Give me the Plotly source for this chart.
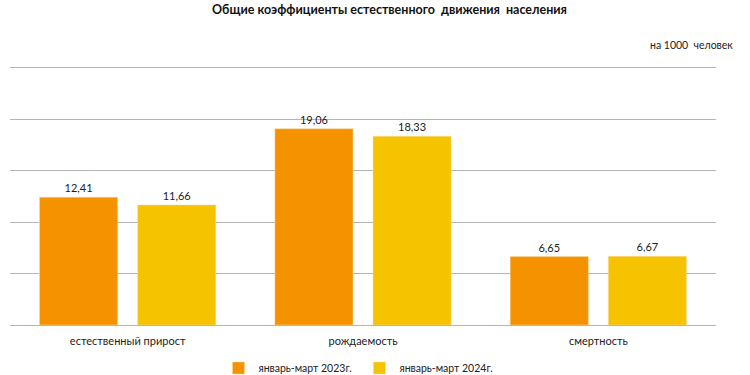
import plotly.graph_objects as go

categories = ["естественный прирост", "рождаемость", "смертность"]
series_names = ["январь-март 2023г.", "январь-март 2024г."]
values_2023 = [12.41, 19.06, 6.65]
values_2024 = [11.66, 18.33, 6.67]
colors = ["#F59200", "#F5C300"]

font_family = "Lato, 'Liberation Sans Narrow', sans-serif"

fig = go.Figure()
for name, vals, col in zip(series_names, [values_2023, values_2024], colors):
    fig.add_trace(go.Bar(
        x=categories, y=vals, name=name,
        marker=dict(color=col, line=dict(color="#FBD9A0", width=0.5)),
        text=[f"{v:.2f}".replace(".", ",") for v in vals],
        textposition="outside",
        textfont=dict(size=11, color="#222222", family=font_family),
        cliponaxis=False,
    ))

fig.update_layout(
    width=750, height=375,
    margin=dict(l=10, r=34, t=66, b=50, autoexpand=False),
    paper_bgcolor="white", plot_bgcolor="white",
    barmode="group", bargap=0.166, bargroupgap=0.204,
    font=dict(family=font_family, size=11, color="#222222"),
    showlegend=True,
    legend=dict(orientation="h", x=0.495, xanchor="center", y=(325 - 368) / 259, yanchor="middle",
                font=dict(size=10.5), itemwidth=30, tracegroupgap=0,
                entrywidth=96, entrywidthmode="pixels",
                itemclick=False),
    annotations=[
        dict(text="<b>Общие коэффициенты естественного  движения  населения</b>",
             xref="paper", yref="paper", x=0.538, y=(325 - 9) / 259, xanchor="center", yanchor="middle",
             showarrow=False, font=dict(size=12.5, color="#111111")),
        dict(text="на 1000  человек", xref="paper", yref="paper", x=1.027, y=(325 - 45) / 259,
             xanchor="right", yanchor="middle", showarrow=False, font=dict(size=10.5)),
    ],
)
fig.update_xaxes(showline=False, ticks="", tickfont=dict(size=11), showgrid=False,
                 automargin=False, ticklabelstandoff=8)
fig.update_yaxes(range=[0, 25.15], tickvals=[5, 10, 15, 20, 25], showticklabels=False, showgrid=True,
                 gridcolor="#B5B5B5", gridwidth=1, zeroline=True, zerolinecolor="#B5B5B5",
                 zerolinewidth=1, showline=False, automargin=False)

fig.write_html("out.html", config={"displayModeBar": False},
               post_script="document.body.style.margin='0';")
